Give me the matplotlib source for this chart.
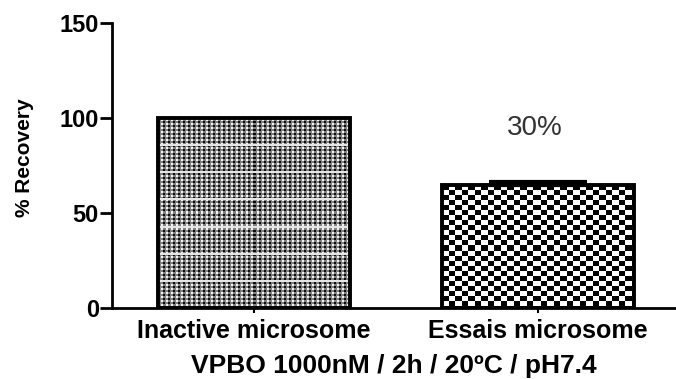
import numpy as np
from matplotlib import pyplot as plt

plt.rcParams['font.family'] = ['Liberation Sans', 'DejaVu Sans']

categories = ['Inactive microsome', 'Essais microsome']
recovery = [100, 64.7]
sem = [0, 1.6]
note = '30%'
yticks = [0, 50, 100, 150]
xlabel = 'VPBO 1000nM / 2h / 20ºC / pH7.4'
ylabel = '% Recovery'


def dots_pattern(h, w):
    yy, xx = np.mgrid[0:h, 0:w]
    img = np.full((h, w), 0.5)
    img[(xx % 5 < 2) & (yy % 4 < 2)] = 0.05
    img[(xx % 5 >= 3) & (yy % 4 >= 2)] = 0.95
    img[(yy % 27) < 2] = 0.9
    return img


def checker_pattern(h, w):
    yy, xx = np.mgrid[0:h, 0:w]
    img = np.where(((xx / 6.5).astype(int) + yy // 5) % 2 == 0, 0.0, 1.0)
    return img


fig = plt.figure(figsize=(6.76, 3.79), dpi=100)
ax = fig.add_axes([0.1657, 0.1873, 0.8343, 0.752])

x = np.arange(len(categories))
bars = ax.bar(x, recovery, width=0.676, facecolor='none', edgecolor='black',
              linewidth=2.8, zorder=3)
ax.set_xlim(-0.5, 1.486)
ax.set_ylim(0, 150)

# fill each bar with a pixel texture like the original
patterns = [dots_pattern, checker_pattern]
for bar, pat in zip(bars, patterns):
    x0, y0 = bar.get_x(), bar.get_y()
    x1, y1 = x0 + bar.get_width(), y0 + bar.get_height()
    p0 = ax.transData.transform((x0, y0))
    p1 = ax.transData.transform((x1, y1))
    w = int(abs(p1[0] - p0[0]))
    h = int(abs(p1[1] - p0[1]))
    im = ax.imshow(pat(h, w), extent=[x0, x1, y0, y1], cmap='gray', vmin=0, vmax=1,
                   interpolation='nearest', aspect='auto', zorder=2)
    im.set_clip_path(bar)

ax.set_xlim(-0.5, 1.486)
ax.set_ylim(0, 150)

ax.errorbar(x[1], recovery[1], yerr=[[0], [sem[1]]], fmt='none', ecolor='black',
            elinewidth=2, capsize=35, capthick=3, zorder=4)

ax.text(x[1] - 0.01, 94.5, note, ha='center', va='center', fontsize=20, color='#333333')

for s in ['top', 'right']:
    ax.spines[s].set_visible(False)
for s in ['left', 'bottom']:
    ax.spines[s].set_linewidth(2)

ax.set_yticks(yticks)
ax.set_xticks(x)
ax.set_xticklabels(categories, fontsize=18, fontweight='bold')
ax.tick_params(axis='y', length=8.5, width=2, pad=1, labelsize=17)
ax.tick_params(axis='x', length=3.6, width=1.5, pad=4)
for lab in ax.get_yticklabels():
    lab.set_fontweight('bold')

ax.set_ylabel(ylabel, fontsize=15, fontweight='bold', va='center')
ax.yaxis.set_label_coords(-0.156, 0.526)
ax.set_xlabel(xlabel, fontsize=19, fontweight='bold')
ax.xaxis.set_label_coords(0.5, -0.16)

fig.savefig('out.png', dpi=100)
